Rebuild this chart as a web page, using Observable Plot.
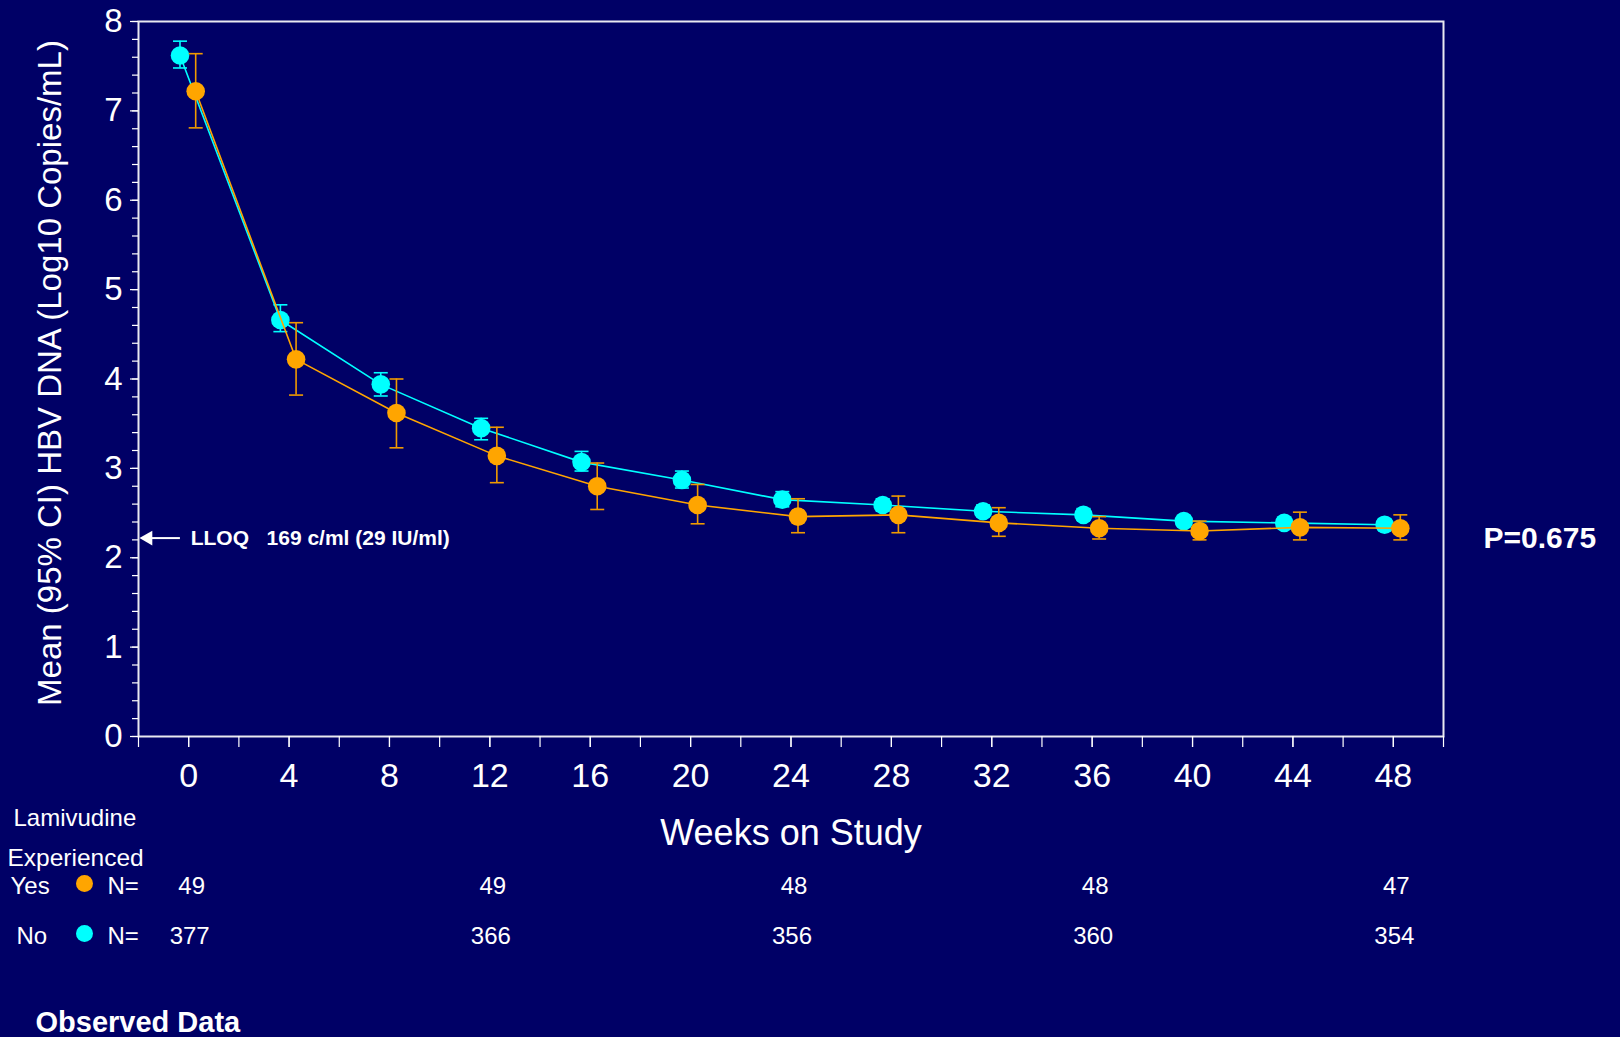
<!DOCTYPE html>
<html>
<head>
<meta charset="utf-8">
<script src="https://cdn.jsdelivr.net/npm/d3@7"></script>
<script src="https://cdn.jsdelivr.net/npm/@observablehq/plot@0.6"></script>
<style>
  html, body { margin: 0; padding: 0; background: #000066; overflow: hidden; }
  #chart svg { display: block; }
</style>
</head>
<body>
<div id="chart"></div>
<script>
// ---- Data ----
const weeks   = [0, 4, 8, 12, 16, 20, 24, 28, 32, 36, 40, 44, 48];
// Lamivudine experienced: No (cyan)
const noMean  = [7.62, 4.66, 3.94, 3.45, 3.07, 2.87, 2.65, 2.59, 2.52, 2.48, 2.41, 2.39, 2.37];
const noLow   = [7.48, 4.53, 3.81, 3.32, 2.97, 2.78, 2.57, 2.52, 2.46, 2.42, 2.35, 2.33, 2.31];
const noHigh  = [7.78, 4.83, 4.07, 3.56, 3.19, 2.97, 2.74, 2.66, 2.59, 2.55, 2.47, 2.45, 2.43];
// Lamivudine experienced: Yes (orange)
const yesMean = [7.22, 4.22, 3.62, 3.14, 2.80, 2.59, 2.46, 2.48, 2.39, 2.33, 2.30, 2.34, 2.33];
const yesLow  = [6.81, 3.82, 3.23, 2.84, 2.54, 2.38, 2.28, 2.28, 2.24, 2.21, 2.20, 2.20, 2.20];
const yesHigh = [7.64, 4.63, 4.00, 3.46, 3.06, 2.82, 2.66, 2.69, 2.56, 2.46, 2.41, 2.51, 2.48];
// Numbers at risk
const nWeeks  = [0, 12, 24, 36, 48];
const yesN    = [49, 49, 48, 48, 47];
const noN     = [377, 366, 356, 360, 354];
// Axis ticks
const xLabelTicks = [0, 4, 8, 12, 16, 20, 24, 28, 32, 36, 40, 44, 48];
const xMinorTicks = d3.range(-2, 51, 2);
const yLabelTicks = [0, 1, 2, 3, 4, 5, 6, 7, 8];
const yMinorTicks = d3.range(0, 41).map(i => i / 5);
// Annotations
const lloqValue = 2.22;
const lloqText = "LLOQ\u00a0\u00a0\u00a0169 c/ml (29 IU/ml)";
const pText = "P=0.675";

// ---- Build tables ----
const noRows  = weeks.map((w, i) => ({week: w, mean: noMean[i], low: noLow[i], high: noHigh[i]}));
const yesRows = weeks.map((w, i) => ({week: w, mean: yesMean[i], low: yesLow[i], high: yesHigh[i]}));
const yesNRows = nWeeks.map((w, i) => ({week: w, n: String(yesN[i])}));
const noNRows  = nWeeks.map((w, i) => ({week: w, n: String(noN[i])}));

const CYAN = "#00FFFF";
const ORANGE = "#FFA500";
const ORANGE_BAR = "#F09A00";
const WHITE = "#FFFFFF";
const cap = {draw(ctx) { ctx.moveTo(-7, 0); ctx.lineTo(7, 0); }};
const dxNo = -8.7, dxYes = 7;

function series(rows, color, barColor, dx) {
  return [
    Plot.line(rows, {x: "week", y: "mean", stroke: color, strokeWidth: 1.6, dx}),
    Plot.ruleX(rows, {x: "week", y1: "low", y2: "high", stroke: barColor, strokeWidth: 1.6, dx}),
    Plot.dot(rows, {x: "week", y: "high", symbol: cap, fill: "none", stroke: barColor, strokeWidth: 1.6, dx}),
    Plot.dot(rows, {x: "week", y: "low", symbol: cap, fill: "none", stroke: barColor, strokeWidth: 1.6, dx}),
    Plot.dot(rows, {x: "week", y: "mean", r: 9.3, fill: color, stroke: "none", dx})
  ];
}

const T = {fill: WHITE, lineAnchor: "middle"};

const chart = Plot.plot({
  width: 1620,
  height: 1037,
  marginTop: 21,
  marginLeft: 138,
  marginRight: 177,
  marginBottom: 301,
  x: {domain: [-2, 50]},
  y: {domain: [0, 8]},
  style: {background: "#000066", color: WHITE, fontFamily: "'Liberation Sans', Arial, Helvetica, sans-serif", overflow: "visible"},
  marks: [
    Plot.frame({stroke: "#E8E8F0", strokeWidth: 2}),
    // y axis
    Plot.axisY({ticks: yMinorTicks, tickSize: 6, tickFormat: () => "", label: null, stroke: WHITE, strokeWidth: 1.2}),
    Plot.axisY({ticks: yLabelTicks, tickSize: 8, tickPadding: 8, fontSize: 33, label: null, stroke: WHITE, fill: WHITE, strokeWidth: 1.2}),
    // x axis
    Plot.axisX({ticks: xMinorTicks, tickSize: 11, tickFormat: () => "", label: null, stroke: WHITE, strokeWidth: 1.2}),
    Plot.axisX({ticks: xLabelTicks, tickSize: 11, tickPadding: 15, fontSize: 34, label: null, stroke: WHITE, fill: WHITE, strokeWidth: 1.2}),
    // axis titles
    Plot.text(["Mean (95% CI) HBV DNA (Log10 Copies/mL)"], {...T, frameAnchor: "left", textAnchor: "middle", rotate: -90, dx: -88, dy: -6, fontSize: 33}),
    Plot.text(["Weeks on Study"], {...T, frameAnchor: "bottom", textAnchor: "middle", dy: 97, fontSize: 36}),
    // series
    ...series(noRows, CYAN, CYAN, dxNo),
    ...series(yesRows, ORANGE, ORANGE_BAR, dxYes),
    // LLOQ annotation
    Plot.link([lloqValue], {x1: -0.35, x2: -1.6, y1: d => d, y2: d => d, stroke: WHITE, strokeWidth: 2}),
    Plot.dot([lloqValue], {x: -1.62, y: d => d, symbol: "triangle", rotate: -90, r: 5.5, fill: WHITE, stroke: "none"}),
    Plot.text([lloqText], {...T, x: 0, y: () => lloqValue, dx: 2, textAnchor: "start", fontSize: 21, fontWeight: "bold"}),
    Plot.text([pText], {...T, frameAnchor: "right", y: () => lloqValue, dx: 40, textAnchor: "start", fontSize: 30, fontWeight: "bold"}),
    // numbers-at-risk table
    Plot.text(["Lamivudine"], {...T, frameAnchor: "bottom-left", dx: -125, dy: 82, textAnchor: "start", fontSize: 24}),
    Plot.text(["Experienced"], {...T, frameAnchor: "bottom-left", dx: -131, dy: 122, textAnchor: "start", fontSize: 24.5}),
    Plot.text(["Yes"], {...T, frameAnchor: "bottom-left", dx: -128, dy: 150, textAnchor: "start", fontSize: 24}),
    Plot.dot(["Yes"], {frameAnchor: "bottom-left", dx: -54, dy: 147, r: 8.5, fill: ORANGE}),
    Plot.text(["N="], {...T, frameAnchor: "bottom-left", dx: -31, dy: 150, textAnchor: "start", fontSize: 24}),
    Plot.text(["No"], {...T, frameAnchor: "bottom-left", dx: -122, dy: 200, textAnchor: "start", fontSize: 24}),
    Plot.dot(["No"], {frameAnchor: "bottom-left", dx: -54, dy: 197, r: 8.5, fill: CYAN}),
    Plot.text(["N="], {...T, frameAnchor: "bottom-left", dx: -31, dy: 200, textAnchor: "start", fontSize: 24}),
    Plot.text(yesNRows, {...T, x: "week", text: "n", frameAnchor: "bottom", textAnchor: "middle", dx: 3, dy: 150, fontSize: 24}),
    Plot.text(noNRows, {...T, x: "week", text: "n", frameAnchor: "bottom", textAnchor: "middle", dx: 1, dy: 200, fontSize: 24}),
    Plot.text(["Observed Data"], {...T, frameAnchor: "bottom-left", dx: -103, dy: 286, textAnchor: "start", fontSize: 29, fontWeight: "bold"})
  ]
});
document.getElementById("chart").appendChild(chart);
</script>
</body>
</html>
